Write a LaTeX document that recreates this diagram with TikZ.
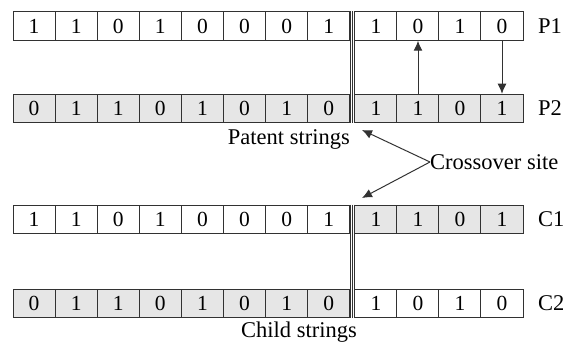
\documentclass[tikz,border=0pt]{standalone}
\usepackage{fontspec}
\setmainfont{Liberation Serif}
\usetikzlibrary{arrows.meta}
\definecolor{cellgray}{RGB}{230,230,230}
\definecolor{edge}{RGB}{50,50,50}
\tikzset{
  cell/.style={draw=edge, line width=1pt, minimum width=42.1pt, minimum height=28.5pt,
    inner sep=0pt, font=\fontsize{21.5}{23}\selectfont},
  lbl/.style={inner sep=0pt, font=\fontsize{22.5}{24}\selectfont},
  sep/.style={draw=edge, line width=1pt},
  arr/.style={draw=edge, line width=1pt, -{Latex[length=10pt,width=9pt]}}
}
% #1 name, #2 y, #3 left fill, #4 right fill, #5 left digits, #6 right digits
\newcommand\geneRow[6]{%
  \foreach \d [count=\i] in {#5}{
    \node[cell, fill=#3] (#1l\i) at ({13+42.1*(\i-0.5)},#2) {\d};
  }
  \foreach \d [count=\i] in {#6}{
    \node[cell, fill=#4] (#1r\i) at ({355+42*(\i-0.5)},#2) {\d};
  }
}
\begin{document}
\begin{tikzpicture}[x=1pt,y=-1pt]
\useasboundingbox (0,0) rectangle (565,347);
\geneRow{pa}{26}{white}{white}{1,1,0,1,0,0,0,1}{1,0,1,0}
\geneRow{pb}{108.5}{cellgray}{cellgray}{0,1,1,0,1,0,1,0}{1,1,0,1}
\geneRow{ca}{219.5}{white}{cellgray}{1,1,0,1,0,0,0,1}{1,1,0,1}
\geneRow{cb}{303.5}{cellgray}{white}{0,1,1,0,1,0,1,0}{1,0,1,0}
% crossover separators
\foreach \a/\b in {pa/pb, ca/cb}{
  \draw[sep] (\a l8.north east) -- (\b l8.south east);
  \draw[sep] ([xshift=2.6pt]\a l8.north east) -- ([xshift=2.6pt]\b l8.south east);
  \draw[sep] (\a r1.north west) -- (\b r1.south west);
}
% labels
\node[lbl, anchor=west] (P1) at (538,26) {P1};
\node[lbl, anchor=west] (P2) at (538,108.5) {P2};
\node[lbl, anchor=west] (C1) at (538,219.5) {C1};
\node[lbl, anchor=west] (C2) at (538,303.5) {C2};
\node[lbl, anchor=east] (pat) at (350,139) {Patent strings};
\node[lbl, anchor=east] (chi) at (357,332) {Child strings};
\node[lbl, anchor=west] (cs) at (430,162) {Crossover site};
% swap arrows
\draw[arr] (pbr2.north) -- (par2.south);
\draw[arr] (par4.south) -- (pbr4.north);
% crossover site arrows
\coordinate (tipA) at (362,130);
\coordinate (tipB) at (362,198);
\draw[arr] (cs.west) -- (tipA);
\draw[arr] (cs.west) -- (tipB);
\end{tikzpicture}
\end{document}
